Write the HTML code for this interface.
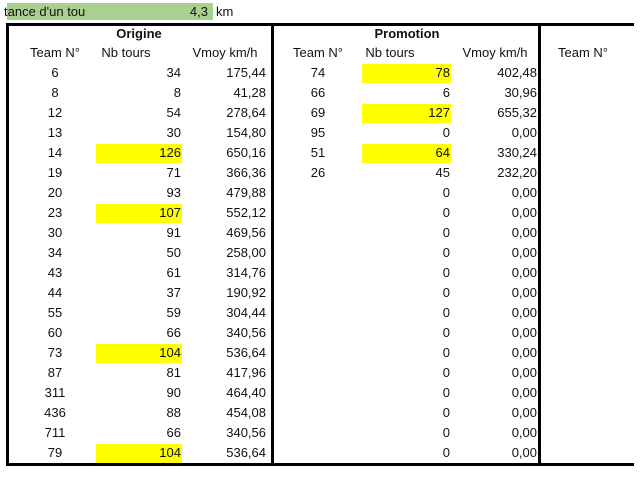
<!DOCTYPE html>
<html><head><meta charset="utf-8">
<style>
body{margin:0;width:640px;height:479px;background:#fff;overflow:hidden;font-family:"Liberation Sans",sans-serif;font-size:13px;color:#111;position:relative}
.a{position:absolute;white-space:nowrap;line-height:20px;height:20px}
.r{text-align:right}.c{text-align:center}
.b{position:absolute;background:#000}
.y{position:absolute;background:#ffff00}
</style></head><body>
<div class="a" style="left:7px;top:3px;width:206px;height:17px;line-height:17px;background:#a9d08e"><span style="margin-left:-3px">tance d'un tou</span></div>
<div class="a r" style="left:120px;top:3px;width:88px;line-height:17px">4,3</div>
<div class="a" style="left:216px;top:3px;line-height:17px">km</div>
<div id="g"></div>
<script>
const teamsO=[6,8,12,13,14,19,20,23,30,34,43,44,55,60,73,87,311,436,711,79];
const toursO=[34,8,54,30,126,71,93,107,91,50,61,37,59,66,104,81,90,88,66,104];
const vmoyO=["175,44","41,28","278,64","154,80","650,16","366,36","479,88","552,12","469,56","258,00","314,76","190,92","304,44","340,56","536,64","417,96","464,40","454,08","340,56","536,64"];
const teamsP=[74,66,69,95,51,26];
const toursP=[78,6,127,0,64,45,0,0,0,0,0,0,0,0,0,0,0,0,0,0];
const vmoyP=["402,48","30,96","655,32","0,00","330,24","232,20","0,00","0,00","0,00","0,00","0,00","0,00","0,00","0,00","0,00","0,00","0,00","0,00","0,00","0,00"];
const g=document.getElementById('g');
function el(cls,x,y,w,t,st){const d=document.createElement('div');d.className=cls;d.style.left=x+'px';d.style.top=y+'px';if(w)d.style.width=w+'px';if(t!==undefined)d.textContent=t;if(st)d.style.cssText+=st;g.appendChild(d);return d;}
const top0=63,rh=20;
for(let i=0;i<20;i++){
 const y=top0+i*rh;
 if(toursO[i]>=100){const h=el('y',96,y+1,86,undefined,'height:19px');
 
 }
 if(toursP[i]>=60){const h=el('y',362,y+1,89,undefined,'height:19px');
 
 }
 let d=el('a c',25,y,60,teamsO[i]);
 
 
 d=el('a r',110,y,71,toursO[i]);
 
 
 d=el('a r',190,y,76,vmoyO[i]);
 
 
 if(i<teamsP.length){d=el('a c',288,y,60,teamsP[i]);
 
 }
 d=el('a r',380,y,70,toursP[i]);
 
 
 d=el('a r',460,y,77,vmoyP[i]);
 
 
}
const hd=[[6,266,'Origine','origine-header'],[274,266,'Promotion','promotion-header']];
hd.forEach(h=>{const d=el('a c',h[0],24,h[1],h[2],'font-weight:bold');
 
 });
const ch=[[25,60,'Team N°'],[96,60,'Nb tours'],[180,90,'Vmoy km/h'],[288,60,'Team N°'],[360,60,'Nb tours'],[445,100,'Vmoy km/h'],[553,60,'Team N°']];
ch.forEach(c=>{const d=el('a c',c[0],43,c[1],c[2]);
 
 });
const borders=[[6,23,628,3],[6,23,3,443],[271,23,3,443],[538,23,3,443],[6,463,628,3]];
borders.forEach(b=>{const d=el('b',b[0],b[1],b[2],undefined,'height:'+b[3]+'px');
 
 });
</script>
</body></html>
